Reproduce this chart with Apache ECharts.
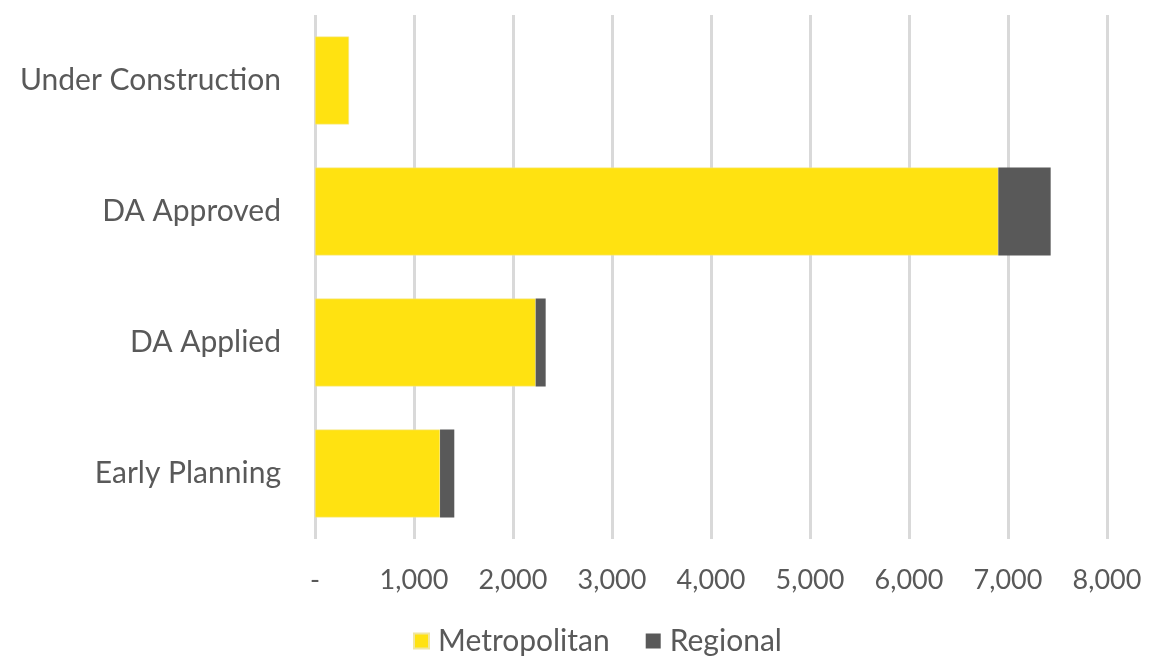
<!DOCTYPE html>
<html>
<head>
<meta charset="utf-8">
<script src="https://cdn.jsdelivr.net/npm/echarts@6/dist/echarts.min.js"></script>
<style>html,body{margin:0;padding:0;background:#fff}#c{width:1152px;height:659px}</style>
</head>
<body>
<div id="c"></div>
<script>
var categories = ["Early Planning", "DA Applied", "DA Approved", "Under Construction"];
var metropolitan = [1263, 2229, 6902, 343];
var regional = [144, 101, 529, 0];
var xTicks = [0, 1000, 2000, 3000, 4000, 5000, 6000, 7000, 8000];

var chart = echarts.init(document.getElementById('c'));
var font = 'Lato, "Open Sans", sans-serif';
chart.setOption({
  animation: false,
  textStyle: {fontFamily: font},
  grid: {left: 315, right: 45, top: 15, bottom: 120, containLabel: false},
  legend: {
    top: 626, left: 408, padding: [0, 5], itemWidth: 15, itemHeight: 15, itemGap: 36,
    icon: 'rect',
    textStyle: {fontSize: 30, color: '#595959', fontFamily: font, padding: [0,0,0,4]},
    data: ['Metropolitan', 'Regional']
  },
  xAxis: {
    type: 'value', min: 0, max: 8000, interval: 1000,
    axisLine: {show: false}, axisTick: {show: false},
    splitLine: {lineStyle: {color: '#d9d9d9', width: 3}},
    axisLabel: {
      fontSize: 27, color: '#595959', margin: 28, fontFamily: font,
      formatter: function (v) { return v === 0 ? '-' : v.toLocaleString('en-US'); }
    }
  },
  yAxis: {
    type: 'category', data: categories,
    axisLine: {show: false}, axisTick: {show: false},
    axisLabel: {fontSize: 30, color: '#595959', margin: 34, fontFamily: font}
  },
  series: [
    {name: 'Metropolitan', type: 'bar', stack: 't', data: metropolitan, barCategoryGap: '33%',
     itemStyle: {color: '#FFE211', borderColor: '#f0e6a0', borderWidth: 0.5}},
    {name: 'Regional', type: 'bar', stack: 't', data: regional,
     itemStyle: {color: '#595959'}}
  ]
});
</script>
</body>
</html>
